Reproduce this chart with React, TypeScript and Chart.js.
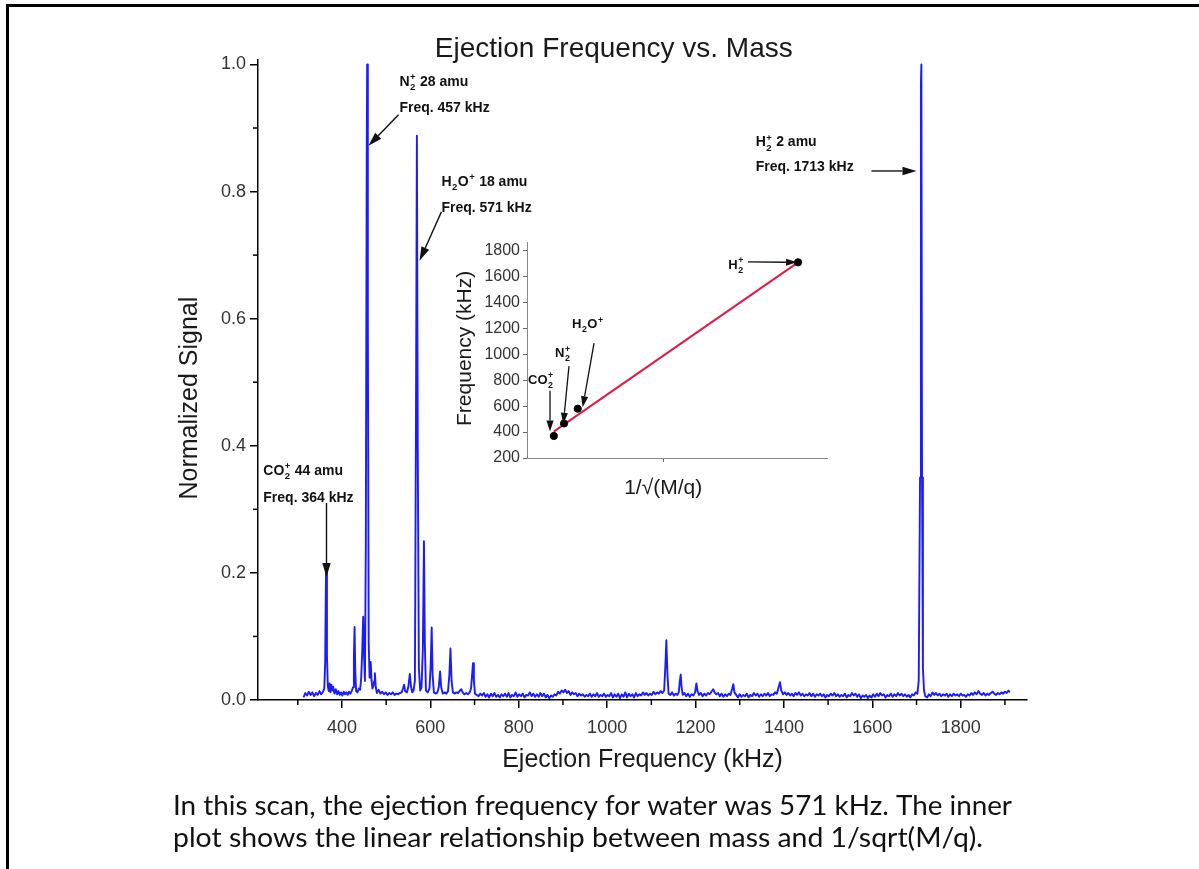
import React, { useEffect, useRef } from "react";
import { Chart, registerables } from "chart.js";

Chart.register(...registerables);

const SANS = '"Liberation Sans", Arial, Helvetica, sans-serif';
const CAPTION_FONT = 'Lato, "Open Sans", sans-serif';

const mainTitle = "Ejection Frequency vs. Mass";
const xAxisTitle = "Ejection Frequency (kHz)";
const yAxisTitle = "Normalized Signal";
const captionLines = [
  "In this scan, the ejection frequency for water was 571 kHz. The inner",
  "plot shows the linear relationship between mass and 1/sqrt(M/q).",
];

// [ejection frequency (kHz), normalized signal]
const spectrum: [number, number][] = [
  [313, 0.004], [317, 0.011], [321, 0.007], [325, 0.013], [329, 0.008], [333, 0.012], [337, 0.006], [341, 0.011],
  [345, 0.008], [349, 0.014], [353, 0.009], [357, 0.013], [360, 0.018], [362, 0.06], [364, 0.21], [366, 0.07],
  [368, 0.022], [370, 0.014], [372, 0.026], [374, 0.012], [376, 0.024], [378, 0.015], [380, 0.021], [383, 0.01],
  [386, 0.017], [389, 0.009], [392, 0.014], [395, 0.008], [398, 0.012], [401, 0.007], [404, 0.013], [407, 0.009],
  [410, 0.012], [413, 0.008], [416, 0.013], [419, 0.01], [422, 0.014], [425, 0.02], [427, 0.07], [428.5, 0.115],
  [430, 0.05], [432, 0.014], [435, 0.012], [438, 0.018], [441, 0.016], [443.5, 0.035], [446, 0.08], [448, 0.131],
  [450, 0.07], [452, 0.03], [454, 0.25], [456, 0.85], [457, 1.0], [458.5, 0.6], [460.5, 0.09], [462.5, 0.035],
  [465, 0.06], [467, 0.03], [469, 0.018], [471, 0.022], [473, 0.03], [474.5, 0.042], [476.5, 0.02], [479, 0.011],
  [483, 0.016], [487, 0.01], [491, 0.013], [495, 0.009], [499, 0.012], [503, 0.008], [507, 0.011], [511, 0.009],
  [515, 0.012], [519, 0.008], [523, 0.01], [527, 0.009], [531, 0.011], [535, 0.012], [538, 0.018], [540.5, 0.024],
  [543, 0.014], [547, 0.012], [550, 0.02], [553.5, 0.041], [556, 0.022], [559, 0.012], [562, 0.015], [565, 0.03],
  [567.5, 0.45], [569.5, 0.888], [571.5, 0.4], [574, 0.05], [577, 0.015], [580, 0.02], [583, 0.08], [585.5, 0.25],
  [587.5, 0.09], [590, 0.015], [594, 0.012], [598, 0.018], [600.5, 0.05], [603, 0.114], [605, 0.04], [608, 0.012],
  [612, 0.01], [616, 0.012], [619, 0.02], [622, 0.045], [624.5, 0.02], [628, 0.01], [632, 0.012], [636, 0.01],
  [640, 0.014], [643, 0.04], [645.5, 0.081], [648, 0.03], [651, 0.012], [655, 0.01], [659, 0.012], [663, 0.011],
  [667, 0.015], [670, 0.017], [673, 0.012], [677, 0.009], [681, 0.011], [685, 0.009], [689, 0.012], [692, 0.018],
  [694.5, 0.04], [696.5, 0.058], [698.5, 0.03], [701, 0.01], [705, 0.008], [709, 0.006], [713, 0.01], [717, 0.007],
  [721, 0.011], [725, 0.005], [729, 0.009], [733, 0.004], [737, 0.01], [741, 0.006], [745, 0.011], [749, 0.005],
  [753, 0.008], [757, 0.004], [761, 0.009], [765, 0.006], [769, 0.01], [773, 0.005], [777, 0.011], [781, 0.004],
  [785, 0.008], [789, 0.006], [793, 0.012], [797, 0.005], [801, 0.009], [805, 0.006], [809, 0.01], [813, 0.004],
  [817, 0.008], [821, 0.007], [825, 0.012], [829, 0.006], [833, 0.01], [837, 0.005], [841, 0.009], [845, 0.005],
  [849, 0.011], [853, 0.006], [857, 0.01], [861, 0.004], [865, 0.008], [869, 0.003], [873, 0.007], [877, 0.005],
  [881, 0.009], [885, 0.007], [889, 0.013], [893, 0.01], [897, 0.015], [901, 0.012], [905, 0.016], [909, 0.011],
  [913, 0.014], [917, 0.008], [921, 0.012], [925, 0.009], [929, 0.011], [933, 0.006], [937, 0.01], [941, 0.007],
  [945, 0.009], [949, 0.005], [953, 0.008], [957, 0.006], [961, 0.01], [965, 0.005], [969, 0.009], [973, 0.006],
  [977, 0.011], [981, 0.005], [985, 0.008], [989, 0.006], [993, 0.01], [997, 0.005], [1001, 0.008], [1005, 0.006],
  [1009, 0.011], [1013, 0.004], [1017, 0.009], [1021, 0.005], [1025, 0.01], [1029, 0.003], [1033, 0.009], [1037, 0.005],
  [1041, 0.012], [1045, 0.004], [1049, 0.01], [1053, 0.006], [1057, 0.009], [1061, 0.004], [1065, 0.011], [1069, 0.006],
  [1073, 0.009], [1077, 0.007], [1081, 0.012], [1085, 0.008], [1089, 0.011], [1093, 0.007], [1097, 0.01], [1101, 0.008],
  [1105, 0.013], [1109, 0.009], [1113, 0.012], [1117, 0.01], [1121, 0.014], [1125, 0.011], [1129, 0.015], [1131.5, 0.05],
  [1134, 0.094], [1136.5, 0.04], [1139, 0.01], [1143, 0.008], [1147, 0.012], [1151, 0.007], [1155, 0.01], [1159, 0.008],
  [1162, 0.012], [1164.5, 0.03], [1166.5, 0.04], [1168.5, 0.02], [1171, 0.008], [1175, 0.011], [1179, 0.006], [1183, 0.01],
  [1187, 0.005], [1191, 0.009], [1195, 0.007], [1199, 0.012], [1202, 0.026], [1204.5, 0.014], [1208, 0.008], [1212, 0.011],
  [1216, 0.006], [1220, 0.01], [1224, 0.007], [1228, 0.011], [1232, 0.009], [1236, 0.013], [1240, 0.017], [1243, 0.012],
  [1247, 0.009], [1251, 0.011], [1255, 0.006], [1259, 0.01], [1263, 0.005], [1267, 0.009], [1271, 0.006], [1275, 0.01],
  [1279, 0.008], [1283, 0.018], [1285.5, 0.025], [1288, 0.012], [1292, 0.008], [1296, 0.004], [1300, 0.009], [1304, 0.005],
  [1308, 0.008], [1312, 0.006], [1316, 0.01], [1320, 0.004], [1324, 0.008], [1328, 0.006], [1332, 0.011], [1336, 0.007],
  [1340, 0.01], [1344, 0.005], [1348, 0.009], [1352, 0.006], [1356, 0.01], [1360, 0.007], [1364, 0.011], [1368, 0.006],
  [1372, 0.009], [1376, 0.008], [1380, 0.012], [1384, 0.01], [1388, 0.02], [1391, 0.028], [1394, 0.015], [1398, 0.009],
  [1402, 0.012], [1406, 0.008], [1410, 0.011], [1414, 0.007], [1418, 0.01], [1422, 0.006], [1426, 0.011], [1430, 0.008],
  [1434, 0.012], [1438, 0.007], [1442, 0.01], [1446, 0.006], [1450, 0.009], [1454, 0.007], [1458, 0.011], [1462, 0.006],
  [1466, 0.01], [1470, 0.005], [1474, 0.009], [1478, 0.007], [1482, 0.01], [1486, 0.006], [1490, 0.009], [1494, 0.004],
  [1498, 0.008], [1502, 0.006], [1506, 0.01], [1510, 0.007], [1514, 0.011], [1518, 0.006], [1522, 0.009], [1526, 0.005],
  [1530, 0.008], [1534, 0.006], [1538, 0.01], [1542, 0.004], [1546, 0.008], [1550, 0.006], [1554, 0.011], [1558, 0.007],
  [1562, 0.01], [1566, 0.005], [1570, 0.009], [1574, 0.003], [1578, 0.007], [1582, 0.005], [1586, 0.008], [1590, 0.003],
  [1594, 0.007], [1598, 0.004], [1602, 0.009], [1606, 0.005], [1610, 0.01], [1614, 0.006], [1618, 0.011], [1622, 0.007],
  [1626, 0.009], [1630, 0.004], [1634, 0.008], [1638, 0.006], [1642, 0.01], [1646, 0.005], [1650, 0.009], [1654, 0.006],
  [1658, 0.011], [1662, 0.007], [1666, 0.01], [1670, 0.006], [1674, 0.009], [1678, 0.005], [1682, 0.008], [1686, 0.004],
  [1690, 0.009], [1694, 0.007], [1698, 0.012], [1702, 0.01], [1705, 0.03], [1708, 0.35], [1710, 0.97], [1711, 1.0],
  [1712.5, 0.35], [1714.5, 0.05], [1717, 0.015], [1720, 0.006], [1724, 0.004], [1728, 0.009], [1732, 0.006], [1736, 0.012],
  [1740, 0.008], [1744, 0.011], [1748, 0.007], [1752, 0.01], [1756, 0.006], [1760, 0.009], [1764, 0.007], [1768, 0.01],
  [1772, 0.005], [1776, 0.009], [1780, 0.006], [1784, 0.01], [1788, 0.007], [1792, 0.009], [1796, 0.006], [1800, 0.01],
  [1804, 0.007], [1808, 0.008], [1812, 0.005], [1816, 0.009], [1820, 0.007], [1824, 0.011], [1828, 0.008], [1832, 0.012],
  [1836, 0.009], [1840, 0.014], [1844, 0.01], [1848, 0.008], [1852, 0.011], [1856, 0.007], [1860, 0.01], [1864, 0.008],
  [1868, 0.011], [1872, 0.013], [1876, 0.01], [1880, 0.008], [1884, 0.011], [1888, 0.009], [1892, 0.012], [1896, 0.01],
  [1900, 0.013], [1904, 0.011], [1908, 0.015], [1911, 0.012],
];

const xMajorTicks = [400, 600, 800, 1000, 1200, 1400, 1600, 1800];
const xMinorTicks = [300, 500, 700, 900, 1100, 1300, 1500, 1700, 1900];
const yMajorTicks = [0, 0.2, 0.4, 0.6, 0.8, 1.0];
const yMinorTicks = [0.1, 0.3, 0.5, 0.7, 0.9];

type Tok = { t: string; sub?: string; sup?: string };

const peakNotes: { head: Tok[]; freqText: string; x: number; yHead: number; yFreq: number; from: number[]; to: number[] }[] = [
  { head: [{ t: "N", sub: "2", sup: "+" }, { t: " 28 amu" }], freqText: "Freq. 457 kHz", x: 530, yHead: 0.966, yFreq: 0.925, from: [528, 0.921], to: [460, 0.872] },
  { head: [{ t: "H", sub: "2" }, { t: "O", sup: "+" }, { t: " 18 amu" }], freqText: "Freq. 571 kHz", x: 625, yHead: 0.809, yFreq: 0.768, from: [625, 0.768], to: [575.5, 0.691] },
  { head: [{ t: "CO", sub: "2", sup: "+" }, { t: " 44 amu" }], freqText: "Freq. 364 kHz", x: 222, yHead: 0.354, yFreq: 0.312, from: [365, 0.31], to: [365, 0.1935] },
  { head: [{ t: "H", sub: "2", sup: "+" }, { t: " 2 amu" }], freqText: "Freq. 1713 kHz", x: 1336, yHead: 0.871, yFreq: 0.832, from: [1598, 0.8324], to: [1700, 0.8324] },
];

// Inset: frequency vs 1/sqrt(M/q)
const insetInvSqrtMq = [0.1511, 0.1743, 0.2055, 0.7071];
const insetFreqKHz = [370, 466, 580, 1708];
const fitInvSqrtMq = [0.1508, 0.7071];
const fitFreqKHz = [403, 1708];
const insetYTicks = [200, 400, 600, 800, 1000, 1200, 1400, 1600, 1800];
const insetXTicks = [0.4];
const insetYTitle = "Frequency (kHz)";
const insetXTitle = "1/\u221A(M/q)";

const insetNotes: { toks: Tok[]; x: number; y: number; from: number[]; to: number[] }[] = [
  { toks: [{ t: "CO", sub: "2", sup: "+" }], x: 0.0923, y: 773, from: [0.1424, 718], to: [0.1424, 405] },
  { toks: [{ t: "N", sub: "2", sup: "+" }], x: 0.1538, y: 977, from: [0.1856, 908], to: [0.1727, 464] },
  { toks: [{ t: "H", sub: "2" }, { t: "O", sup: "+" }], x: 0.1925, y: 1200, from: [0.2426, 1086], to: [0.2168, 591] },
  { toks: [{ t: "H", sub: "2", sup: "+" }], x: 0.5483, y: 1657, from: [0.5932, 1711], to: [0.7048, 1708] },
];

function drawChem(ctx: CanvasRenderingContext2D, x: number, y: number, toks: Tok[], size: number) {
  let cx = x;
  const f = (s: number) => `bold ${s}px ${SANS}`;
  ctx.textAlign = "left";
  ctx.textBaseline = "alphabetic";
  for (const tk of toks) {
    ctx.font = f(size);
    ctx.fillText(tk.t, cx, y);
    cx += ctx.measureText(tk.t).width;
    let w = 0;
    ctx.font = f(size * 0.68);
    if (tk.sup) {
      ctx.fillText(tk.sup, cx + 0.5, y - size * 0.42);
      w = Math.max(w, ctx.measureText(tk.sup).width);
    }
    if (tk.sub) {
      ctx.fillText(tk.sub, cx + 0.5, y + size * 0.3);
      w = Math.max(w, ctx.measureText(tk.sub).width);
    }
    cx += w ? w + 1 : 0;
  }
}

function drawArrow(ctx: CanvasRenderingContext2D, x1: number, y1: number, x2: number, y2: number, head: number, half: number, lw: number) {
  const a = Math.atan2(y2 - y1, x2 - x1);
  const bx = x2 - head * Math.cos(a);
  const by = y2 - head * Math.sin(a);
  ctx.lineWidth = lw;
  ctx.beginPath();
  ctx.moveTo(x1, y1);
  ctx.lineTo(bx, by);
  ctx.stroke();
  ctx.beginPath();
  ctx.moveTo(x2, y2);
  ctx.lineTo(bx - half * Math.sin(a), by + half * Math.cos(a));
  ctx.lineTo(bx + half * Math.sin(a), by - half * Math.cos(a));
  ctx.closePath();
  ctx.fill();
}

const mainDecor = {
  id: "mainDecor",
  afterDraw(chart: any) {
    const { ctx, chartArea } = chart;
    const xs = chart.scales.x;
    const ys = chart.scales.y;
    ctx.save();
    ctx.strokeStyle = "#000";
    ctx.fillStyle = "#000";
    ctx.lineWidth = 1.5;
    for (const v of xMinorTicks) {
      const px = xs.getPixelForValue(v);
      ctx.beginPath();
      ctx.moveTo(px, chartArea.bottom);
      ctx.lineTo(px, chartArea.bottom + 5);
      ctx.stroke();
    }
    for (const v of yMinorTicks) {
      const py = ys.getPixelForValue(v);
      ctx.beginPath();
      ctx.moveTo(chartArea.left - 5, py);
      ctx.lineTo(chartArea.left, py);
      ctx.stroke();
    }
    // titles
    ctx.fillStyle = "#1a1a1a";
    ctx.textAlign = "center";
    ctx.textBaseline = "middle";
    ctx.font = `28px ${SANS}`;
    ctx.fillText(mainTitle, xs.getPixelForValue(1015), chartArea.top - 11);
    ctx.font = `25px ${SANS}`;
    ctx.fillText(xAxisTitle, xs.getPixelForValue(1080), chartArea.bottom + 60);
    ctx.save();
    ctx.translate(chartArea.left - 68, ys.getPixelForValue(0.475));
    ctx.rotate(-Math.PI / 2);
    ctx.fillText(yAxisTitle, 0, 0);
    ctx.restore();
    // peak annotations
    ctx.fillStyle = "#111";
    ctx.strokeStyle = "#111";
    for (const n of peakNotes) {
      const lx = xs.getPixelForValue(n.x);
      drawChem(ctx, lx, ys.getPixelForValue(n.yHead), n.head, 14);
      ctx.font = `bold 14px ${SANS}`;
      ctx.textAlign = "left";
      ctx.textBaseline = "alphabetic";
      ctx.fillText(n.freqText, lx, ys.getPixelForValue(n.yFreq));
      drawArrow(
        ctx,
        xs.getPixelForValue(n.from[0]), ys.getPixelForValue(n.from[1]),
        xs.getPixelForValue(n.to[0]), ys.getPixelForValue(n.to[1]),
        14, 4.2, 1.4
      );
    }
    // caption
    ctx.fillStyle = "#111";
    ctx.textAlign = "left";
    ctx.textBaseline = "alphabetic";
    ctx.font = `26px ${CAPTION_FONT}`;
    const targets = [839, 810];
    captionLines.forEach((line, i) => {
      const w = ctx.measureText(line).width;
      ctx.save();
      ctx.translate(173, 815 + i * 32);
      ctx.scale(targets[i] / w, 1);
      ctx.fillText(line, 0, 0);
      ctx.restore();
    });
    ctx.restore();
  },
};

const insetDecor = {
  id: "insetDecor",
  afterDraw(chart: any) {
    const { ctx, chartArea } = chart;
    const xs = chart.scales.x;
    const ys = chart.scales.y;
    ctx.save();
    ctx.fillStyle = "#1a1a1a";
    ctx.textAlign = "center";
    ctx.textBaseline = "middle";
    ctx.font = `21px ${SANS}`;
    ctx.fillText(insetXTitle, xs.getPixelForValue(0.4), chartArea.bottom + 30);
    ctx.save();
    ctx.translate(chartArea.left - 62, ys.getPixelForValue(1045));
    ctx.rotate(-Math.PI / 2);
    ctx.fillText(insetYTitle, 0, 0);
    ctx.restore();
    ctx.fillStyle = "#111";
    ctx.strokeStyle = "#111";
    for (const n of insetNotes) {
      drawChem(ctx, xs.getPixelForValue(n.x), ys.getPixelForValue(n.y), n.toks, 13);
      drawArrow(
        ctx,
        xs.getPixelForValue(n.from[0]), ys.getPixelForValue(n.from[1]),
        xs.getPixelForValue(n.to[0]), ys.getPixelForValue(n.to[1]),
        11, 3.6, 1.3
      );
    }
    ctx.restore();
  },
};

export default function App() {
  const mainRef = useRef<HTMLCanvasElement>(null);
  const insetRef = useRef<HTMLCanvasElement>(null);

  useEffect(() => {
    document.body.style.margin = "0";
    const main = new Chart(mainRef.current as HTMLCanvasElement, {
      type: "line",
      data: {
        datasets: [
          {
            data: spectrum.map(([f, s]) => ({ x: f, y: s })),
            borderColor: "#1b1bff",
            borderWidth: 1.9,
            borderJoinStyle: "round",
            pointRadius: 0,
            tension: 0,
            fill: false,
          },
        ],
      },
      options: {
        responsive: false,
        animation: false,
        devicePixelRatio: 1,
        layout: { padding: { left: 0, right: 172, top: 60, bottom: 0 } },
        plugins: { legend: { display: false }, tooltip: { enabled: false }, title: { display: false } },
        scales: {
          x: {
            type: "linear",
            min: 210,
            max: 1950,
            afterFit: (s: any) => { s.height = 169; },
            afterBuildTicks: (s: any) => { s.ticks = xMajorTicks.map((v) => ({ value: v })); },
            grid: { drawOnChartArea: false, drawTicks: true, tickLength: 8, color: "#000", lineWidth: 1.5 },
            border: { display: true, color: "#000", width: 1.5 },
            ticks: { font: { family: SANS, size: 18 }, color: "#333", padding: 9, maxRotation: 0, autoSkip: false, callback: (v: any) => String(v) },
          },
          y: {
            type: "linear",
            min: 0,
            max: 1.007,
            afterFit: (s: any) => { s.width = 258; },
            afterBuildTicks: (s: any) => { s.ticks = yMajorTicks.map((v) => ({ value: v })); },
            grid: { drawOnChartArea: false, drawTicks: true, tickLength: 8, color: "#000", lineWidth: 1.5 },
            border: { display: true, color: "#000", width: 1.5 },
            ticks: { font: { family: SANS, size: 18 }, color: "#333", padding: 4, callback: (v: any) => Number(v).toFixed(1) },
          },
        },
      },
      plugins: [mainDecor],
    } as any);

    const inset = new Chart(insetRef.current as HTMLCanvasElement, {
      type: "scatter",
      data: {
        datasets: [
          {
            data: insetInvSqrtMq.map((x, i) => ({ x, y: insetFreqKHz[i] })),
            pointRadius: 3.6,
            backgroundColor: "#000",
            borderColor: "#000",
          },
          {
            data: fitInvSqrtMq.map((x, i) => ({ x, y: fitFreqKHz[i] })),
            showLine: true,
            borderColor: "#e0194a",
            borderWidth: 2,
            pointRadius: 0,
          },
        ],
      },
      options: {
        responsive: false,
        animation: false,
        devicePixelRatio: 1,
        layout: { padding: { left: 0, right: 13, top: 10, bottom: 0 } },
        plugins: { legend: { display: false }, tooltip: { enabled: false } },
        scales: {
          x: {
            type: "linear",
            min: 0.09,
            max: 0.773,
            afterFit: (s: any) => { s.height = 52; },
            afterBuildTicks: (s: any) => { s.ticks = insetXTicks.map((v) => ({ value: v })); },
            grid: { drawOnChartArea: false, drawTicks: true, tickLength: 4, color: "#666", lineWidth: 1 },
            border: { display: true, color: "#888", width: 1 },
            ticks: { display: false },
          },
          y: {
            type: "linear",
            min: 200,
            max: 1860,
            afterFit: (s: any) => { s.width = 87; },
            afterBuildTicks: (s: any) => { s.ticks = insetYTicks.map((v) => ({ value: v })); },
            grid: { drawOnChartArea: false, drawTicks: true, tickLength: 4, color: "#666", lineWidth: 1 },
            border: { display: true, color: "#888", width: 1 },
            ticks: { font: { family: SANS, size: 16 }, color: "#333", padding: 3, callback: (v: any) => String(v) },
          },
        },
      },
      plugins: [insetDecor],
    } as any);

    return () => {
      main.destroy();
      inset.destroy();
    };
  }, []);

  return (
    <div style={{ position: "relative", width: 1199, height: 869, overflow: "hidden", background: "#fff" }}>
      <div
        style={{
          position: "absolute",
          left: 6,
          top: 4,
          right: -10,
          bottom: -10,
          borderTop: "3px solid #000",
          borderLeft: "3px solid #000",
        }}
      />
      <canvas ref={mainRef} width={1199} height={869} style={{ position: "absolute", left: 0, top: 0, width: 1199, height: 869 }} />
      <canvas ref={insetRef} width={400} height={280} style={{ position: "absolute", left: 440, top: 230, width: 400, height: 280 }} />
    </div>
  );
}
